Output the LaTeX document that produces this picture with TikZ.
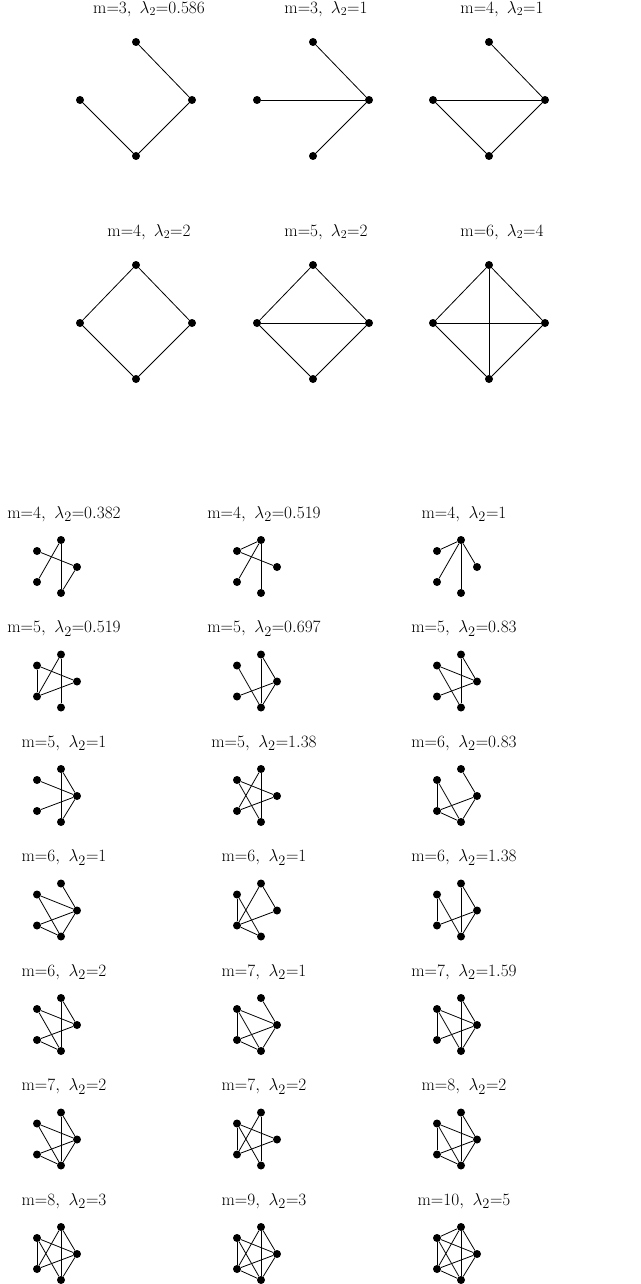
\documentclass[tikz,border=0pt]{standalone}
\begin{document}
\begin{tikzpicture}[x=1pt,y=-1pt,
  dot/.style={circle,fill=black,inner sep=0pt,minimum size=8pt},
  edge/.style={line width=0.8pt},
  lbl/.style={font=\fontsize{17.5}{20}\selectfont},
  lblb/.style={font=\fontsize{19}{23}\selectfont}]
\useasboundingbox (0,0) rectangle (640,1284);
% top 4-node graphs
\foreach \n/\dx/\dy/\lab/\E in {
 t1/0/0/{$\mathrm{m}{=}3,\ \lambda_2{=}0.586$}/{L/B,B/R,R/T},
 t2/177/0/{$\mathrm{m}{=}3,\ \lambda_2{=}1$}/{L/R,T/R,B/R},
 t3/353/0/{$\mathrm{m}{=}4,\ \lambda_2{=}1$}/{L/R,T/R,R/B,L/B},
 t4/0/223/{$\mathrm{m}{=}4,\ \lambda_2{=}2$}/{L/T,T/R,R/B,B/L},
 t5/177/223/{$\mathrm{m}{=}5,\ \lambda_2{=}2$}/{L/T,T/R,R/B,B/L,L/R},
 t6/353/223/{$\mathrm{m}{=}6,\ \lambda_2{=}4$}/{L/T,T/R,R/B,B/L,L/R,T/B}}{
 \begin{scope}[shift={(\dx,\dy)}]
  \node[dot] (\n L) at (80,100) {};
  \node[dot] (\n T) at (136,42) {};
  \node[dot] (\n R) at (192,100) {};
  \node[dot] (\n B) at (136,156) {};
  \node[lbl] (\n lab) at (149,9) {\lab};
  \foreach \u/\v in \E { \draw[edge] (\n\u) -- (\n\v); }
 \end{scope}
}
% bottom 5-node graphs
\foreach \n/\c/\r/\lab/\E in {
 a1/0/0/{$\mathrm{m}{=}4,\ \lambda_2{=}0.382$}/{B/C,A/D,A/E,C/E},
 a2/1/0/{$\mathrm{m}{=}4,\ \lambda_2{=}0.519$}/{B/A,A/D,B/C,A/E},
 a3/2/0/{$\mathrm{m}{=}4,\ \lambda_2{=}1$}/{B/A,A/D,A/E,A/C},
 b1/0/1/{$\mathrm{m}{=}5,\ \lambda_2{=}0.519$}/{B/D,B/C,D/A,D/C,A/E},
 b2/1/1/{$\mathrm{m}{=}5,\ \lambda_2{=}0.697$}/{B/E,A/E,A/C,D/C,C/E},
 b3/2/1/{$\mathrm{m}{=}5,\ \lambda_2{=}0.83$}/{B/C,B/E,A/E,A/C,D/C},
 c1/0/2/{$\mathrm{m}{=}5,\ \lambda_2{=}1$}/{B/C,D/C,A/E,A/C,C/E},
 c2/1/2/{$\mathrm{m}{=}5,\ \lambda_2{=}1.38$}/{B/C,B/E,D/A,D/C,A/E},
 c3/2/2/{$\mathrm{m}{=}6,\ \lambda_2{=}0.83$}/{B/D,B/E,A/C,D/C,D/E,C/E},
 d1/0/3/{$\mathrm{m}{=}6,\ \lambda_2{=}1$}/{B/C,B/E,A/C,D/C,D/E,C/E},
 d2/1/3/{$\mathrm{m}{=}6,\ \lambda_2{=}1$}/{B/D,D/A,A/C,D/C,D/E,B/E},
 d3/2/3/{$\mathrm{m}{=}6,\ \lambda_2{=}1.38$}/{B/D,B/E,A/E,A/C,D/C,C/E},
 e1/0/4/{$\mathrm{m}{=}6,\ \lambda_2{=}2$}/{B/C,B/E,A/E,A/C,D/C,D/E},
 e2/1/4/{$\mathrm{m}{=}7,\ \lambda_2{=}1$}/{B/C,B/D,B/E,A/C,D/C,D/E,C/E},
 e3/2/4/{$\mathrm{m}{=}7,\ \lambda_2{=}1.59$}/{B/C,B/D,B/E,A/E,A/C,D/C,C/E},
 f1/0/5/{$\mathrm{m}{=}7,\ \lambda_2{=}2$}/{B/C,B/E,A/E,A/C,D/C,D/E,C/E},
 f2/1/5/{$\mathrm{m}{=}7,\ \lambda_2{=}2$}/{B/D,B/C,B/E,D/A,D/C,A/E},
 f3/2/5/{$\mathrm{m}{=}8,\ \lambda_2{=}2$}/{B/C,B/D,B/E,A/E,A/C,D/C,D/E,C/E},
 g1/0/6/{$\mathrm{m}{=}8,\ \lambda_2{=}3$}/{B/D,B/C,B/E,A/D,A/E,A/C,D/C,C/E},
 g2/1/6/{$\mathrm{m}{=}9,\ \lambda_2{=}3$}/{B/D,B/C,B/E,A/D,A/E,A/C,D/C,D/E,C/E},
 g3/2/6/{$\mathrm{m}{=}10,\ \lambda_2{=}5$}/{B/A,B/D,B/C,B/E,A/D,A/E,A/C,D/C,D/E,C/E}}{
 \begin{scope}[shift={(\c*200,\r*114.5)}]
  \node[dot] (\n A) at (61,540) {};
  \node[dot] (\n B) at (37,551) {};
  \node[dot] (\n C) at (77,567) {};
  \node[dot] (\n D) at (37,582) {};
  \node[dot] (\n E) at (61,593) {};
  \node[lblb] (\n lab) at (64,514) {\lab};
  \foreach \u/\v in \E { \draw[edge] (\n\u) -- (\n\v); }
 \end{scope}
}
\end{tikzpicture}
\end{document}
